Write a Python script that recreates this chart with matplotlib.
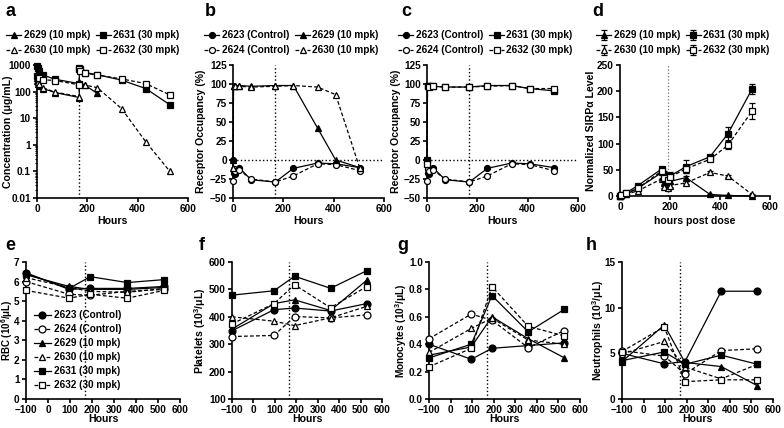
import numpy as np
import matplotlib
matplotlib.use('Agg')
import matplotlib.pyplot as plt
from matplotlib.ticker import FuncFormatter, MultipleLocator, LogLocator

plt.rcParams['font.family'] = ['Liberation Sans', 'DejaVu Sans']
plt.rcParams['font.weight'] = 'bold'
plt.rcParams['axes.labelweight'] = 'bold'
plt.rcParams['mathtext.fontset'] = 'custom'
plt.rcParams['mathtext.rm'] = 'Liberation Sans:bold'
plt.rcParams['mathtext.it'] = 'Liberation Sans:bold'
plt.rcParams['mathtext.bf'] = 'Liberation Sans:bold'
plt.rcParams['font.size'] = 7.2
plt.rcParams['axes.labelsize'] = 7.6
plt.rcParams['axes.linewidth'] = 1.2
plt.rcParams['xtick.major.width'] = 1.2
plt.rcParams['ytick.major.width'] = 1.2
plt.rcParams['xtick.major.size'] = 3
plt.rcParams['ytick.major.size'] = 3
plt.rcParams['xtick.major.pad'] = 1.2
plt.rcParams['ytick.major.pad'] = 1.5

# ---------------- datos ----------------
nombres = {'2623': '2623 (Control)', '2624': '2624 (Control)',
           '2629': '2629 (10 mpk)', '2630': '2630 (10 mpk)',
           '2631': '2631 (30 mpk)', '2632': '2632 (30 mpk)'}

# a: concentracion (ug/mL)
t_a = {'2629': [0, 4, 8, 24, 72, 168, 168, 192, 240],
       '2630': [0, 4, 8, 24, 72, 168, 168, 192, 240, 336, 432, 528],
       '2631': [0, 4, 8, 24, 72, 168, 168, 172, 192, 240, 336, 432, 528],
       '2632': [0, 4, 8, 24, 72, 168, 168, 172, 192, 240, 336, 432, 528]}
conc_a = {'2629': [250, 200, 165, 130, 92, 60, 230, 170, 85],
          '2630': [320, 230, 190, 140, 95, 65, 210, 175, 140, 23, 1.3, 0.1],
          '2631': [900, 750, 600, 420, 290, 200, 800, 690, 520, 430, 270, 130, 32],
          '2632': [400, 350, 320, 280, 260, 180, 700, 600, 480, 420, 300, 200, 75]}

# b, c: ocupacion de receptor (%)
t_ro = [0, 2, 8, 24, 72, 168, 240, 336, 408, 504]
ro = {'2623': [0, -17, -19, -10, -26, -29, -11, -4, -5, -10],
      '2624': [-28, -12, -14, -13, -25, -29, -21, -5, -6, -14],
      '2629': [0, 98, 98, 98, 97, 98, 98, 42, 0, -10],
      '2630': [-10, 97, 97, 97, 96, 97, 98, 96, 86, -11],
      '2631': [0, 98, 97, 97, 96, 96, 98, 98, 94, 91],
      '2632': [-5, 97, 96, 97, 96, 96, 97, 98, 94, 94]}

# d: SIRPa normalizado
t_d = [0, 4, 24, 72, 168, 176, 192, 200, 264, 360, 432, 528]
sirp = {'2629': [0, 1, 3, 15, 45, 25, 22, 28, 35, 3, 1, 0],
        '2630': [0, 1, 3, 10, 33, 18, 15, 20, 25, 45, 38, 3],
        '2631': [0, 2, 6, 20, 52, 40, 33, 38, 56, 75, 119, 204],
        '2632': [0, 2, 5, 15, 48, 35, 30, 36, 52, 70, 97, 162]}
sirp_err = {'2629': [0, 0, 1, 1, 2, 3, 3, 3, 3, 1, 0, 0],
            '2630': [0, 0, 1, 1, 2, 3, 3, 3, 3, 2, 2, 1],
            '2631': [0, 1, 1, 2, 3, 8, 8, 8, 12, 4, 12, 10],
            '2632': [0, 1, 1, 2, 3, 6, 6, 6, 8, 4, 8, 15]}

# e-h: hematologia
t_h = [-100, 96, 192, 360, 528]
rbc = {'2623': [6.45, 5.6, 5.65, 5.65, 5.75],
       '2624': [6.0, 5.35, 5.3, 5.5, 5.6],
       '2629': [6.35, 5.75, 5.6, 5.6, 5.7],
       '2630': [6.2, 5.7, 5.5, 5.45, 5.65],
       '2631': [6.4, 5.65, 6.25, 5.95, 6.1],
       '2632': [5.55, 5.15, 5.35, 5.15, 5.55]}
plaq = {'2623': [349, 426, 432, 421, 448],
        '2624': [328, 332, 401, 396, 407],
        '2629': [355, 448, 462, 423, 533],
        '2630': [400, 384, 368, 396, 438],
        '2631': [479, 495, 548, 504, 568],
        '2632': [374, 448, 517, 433, 510]}
mono = {'2623': [0.40, 0.29, 0.37, 0.39, 0.41],
        '2624': [0.44, 0.62, 0.575, 0.375, 0.50],
        '2629': [0.32, 0.38, 0.60, 0.44, 0.30],
        '2630': [0.34, 0.515, 0.59, 0.43, 0.40],
        '2631': [0.30, 0.40, 0.755, 0.49, 0.655],
        '2632': [0.235, 0.37, 0.82, 0.53, 0.46]}
neut = {'2623': [5.0, 3.85, 4.1, 11.8, 11.8],
        '2624': [5.3, 4.7, 2.75, 5.3, 5.5],
        '2629': [4.1, 8.1, 4.0, 3.55, 1.45],
        '2630': [4.95, 6.3, 3.5, 2.2, 3.8],
        '2631': [4.2, 5.15, 3.8, 4.8, 3.8],
        '2632': [5.2, 7.9, 1.9, 2.1, 2.1]}

# estilo de cada animal
estilo = {'2623': ('o', 'k', '-'), '2624': ('o', 'w', '--'),
          '2629': ('^', 'k', '-'), '2630': ('^', 'w', '--'),
          '2631': ('s', 'k', '-'), '2632': ('s', 'w', '--')}

W, H = 784, 428
fig = plt.figure(figsize=(W / 100, H / 100), dpi=100)


def ejes(left, top, width, height):
    ax = fig.add_axes([left / W, 1 - (top + height) / H, width / W, height / H])
    ax.spines['top'].set_visible(False)
    ax.spines['right'].set_visible(False)
    return ax


def etiquetas(ax, left, width, top, height, ylab, xlab, ylab_x, xlab_y, ysize=7.6):
    # posiciones de las etiquetas en pixeles de la figura
    ax.set_ylabel(ylab, fontsize=ysize)
    ax.yaxis.set_label_coords((ylab_x - left) / width, 0.5)
    ax.set_xlabel(xlab)
    ax.xaxis.set_label_coords(0.5, -(xlab_y - top - height) / height)
    ax.xaxis.label.set_va('center')
    ax.yaxis.label.set_va('center')


def serie(ax, x, y, k, ms=4.3, err=None):
    m, fc, ls = estilo[k]
    kw = dict(color='k', marker=m, mfc=fc, mec='k', mew=0.9, ms=ms,
              ls=ls, lw=0.9, label=nombres[k], clip_on=False, zorder=3)
    if ls == '--':
        kw['dashes'] = (3, 1.8)
    if err is None:
        ax.plot(x, y, **kw)
    else:
        ax.errorbar(x, y, yerr=err, capsize=2, elinewidth=0.8, capthick=0.8, **kw)


def leyenda(ax, x0, y0):
    ax.legend(ncol=2, loc='lower left', bbox_to_anchor=(x0 / W, 1 - y0 / H),
              bbox_transform=fig.transFigure, frameon=False, handlelength=1.5,
              columnspacing=0.6, handletextpad=0.25, borderaxespad=0,
              labelspacing=0.5, borderpad=0, fontsize=7.2)


fmt_g = FuncFormatter(lambda v, p: '%g' % v)

# ---- a ----
ax = ejes(37, 65, 151, 133)
for k in ['2629', '2630', '2631', '2632']:
    serie(ax, t_a[k], conc_a[k], k)
ax.set_yscale('log')
ax.set_ylim(0.01, 1000)
ax.set_xlim(0, 600)
ax.xaxis.set_major_locator(MultipleLocator(200))
ax.yaxis.set_major_formatter(fmt_g)
ax.yaxis.set_minor_locator(LogLocator(subs=np.arange(2, 10)))
ax.tick_params(which='minor', length=1.5, width=0.8)
ax.plot([168, 168], [0.01, 60], 'k:', lw=1, zorder=2)
etiquetas(ax, 37, 151, 65, 133, 'Concentration (\u03bcg/mL)', 'Hours', 8, 221)
leyenda(ax, 6, 55)

# ---- b, c ----
for left, ids, lx, lgx in [(233, ['2623', '2624', '2629', '2630'], 201, 204),
                           (427, ['2623', '2624', '2631', '2632'], 396, 398)]:
    ax = ejes(left, 65, 151, 133)
    for k in ids:
        serie(ax, t_ro, ro[k], k)
    ax.set_xlim(0, 600)
    ax.set_ylim(-50, 125)
    ax.xaxis.set_major_locator(MultipleLocator(200))
    ax.yaxis.set_major_locator(MultipleLocator(25))
    ax.axvline(168, color='k', ls=':', lw=1, zorder=1)
    ax.axhline(0, color='k', ls=':', lw=1, zorder=1)
    etiquetas(ax, left, 151, 65, 133, 'Receptor Occupancy (%)', 'Hours', lx, 221)
    leyenda(ax, lgx, 55)

# ---- d ----
ax = ejes(620, 65, 150, 131)
for k in ['2629', '2630', '2631', '2632']:
    serie(ax, t_d, sirp[k], k, err=sirp_err[k])
ax.set_xlim(0, 600)
ax.set_ylim(0, 250)
ax.xaxis.set_major_locator(MultipleLocator(200))
ax.yaxis.set_major_locator(MultipleLocator(50))
ax.axvline(190, color='0.45', ls=':', lw=0.9, zorder=1)
etiquetas(ax, 620, 150, 65, 131, 'Normalized SIRP\u03b1 Level', 'hours post dose', 591, 221)
leyenda(ax, 596, 55)

# ---- e-h ----
ids6 = ['2623', '2624', '2629', '2630', '2631', '2632']
paneles = [(26, 154, rbc, (0, 7), 1, 'RBC (10$^{6}$/\u03bcL)', 7, 7.0),
           (232, 150, plaq, (100, 600), 100, 'Platelets (10$^{3}$/\u03bcL)', 200, 7.6),
           (429, 151, mono, (0, 1.0), 0.2, 'Monocytes (10$^{3}$/\u03bcL)', 401, 7.3),
           (622, 151, neut, (0, 15), 5, 'Neutrophils (10$^{3}$/\u03bcL)', 598, 7.6)]
for i, (left, w, datos, ylim, paso, etiqueta, lx, ys) in enumerate(paneles):
    ax = ejes(left, 262, w, 137)
    for k in ids6:
        serie(ax, t_h, datos[k], k, ms=5)
    ax.set_xlim(-100, 600)
    ax.set_ylim(*ylim)
    ax.xaxis.set_major_locator(MultipleLocator(100))
    ax.yaxis.set_major_locator(MultipleLocator(paso))
    if paso == 0.2:
        ax.yaxis.set_major_formatter(FuncFormatter(lambda v, p: '%.1f' % v))
    ax.axvline(168, color='k', ls=':', lw=1, zorder=1)
    etiquetas(ax, left, w, 262, 137, etiqueta, 'Hours', lx, 419, ysize=ys)
    if i == 0:
        ax.legend(loc='lower left', bbox_to_anchor=(0.05, 0.065), frameon=False,
                  handlelength=1.7, handletextpad=0.3, labelspacing=0.4,
                  borderaxespad=0, borderpad=0, fontsize=7.2)

# letras de panel
for letra, x, y in [('a', 5, 16), ('b', 205, 16), ('c', 401, 16), ('d', 592, 16),
                    ('e', 5, 250), ('f', 199, 250), ('g', 397, 250), ('h', 586, 250)]:
    fig.text(x / W, 1 - y / H, letra, fontsize=13, fontweight='bold', va='baseline')

fig.savefig('out.png', dpi=100)
